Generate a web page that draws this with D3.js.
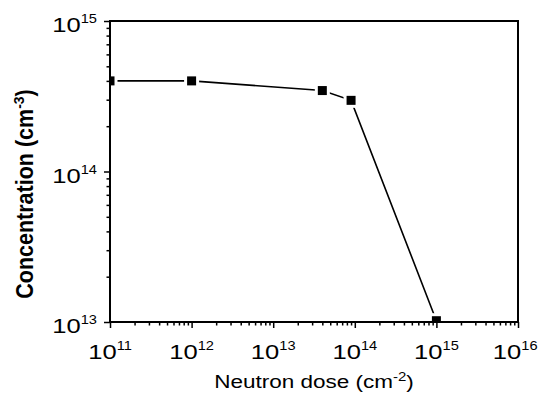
<!DOCTYPE html>
<meta charset="utf-8">
<script src="https://d3js.org/d3.v7.min.js"></script>
<style>
  body { margin: 0; background: #fff; }
  text { font-family: "Liberation Sans", Arial, sans-serif; fill: #000; }
</style>
<div id="my_dataviz"></div>
<script>

// data
var dose = [1e11, 1e12, 4e13, 9e13, 1e15];
var concentration = [4e14, 4e14, 3.45e14, 2.97e14, 1.02e13];
var xTickExp = [11, 12, 13, 14, 15, 16];
var yTickExp = [13, 14, 15];

var margin = { top: 21, right: 22, bottom: 76, left: 110 },
    width = 540 - margin.left - margin.right,
    height = 398 - margin.top - margin.bottom;

// the original text looks stretched sideways
var stretch = 1.22;

var svg = d3.select("#my_dataviz")
    .append("svg")
    .attr("width", 540)
    .attr("height", 398)
    .append("g")
    .attr("transform", "translate(" + margin.left + "," + margin.top + ")");

var x = d3.scaleLog().domain([1e11, 1e16]).range([0, width]);
var y = d3.scaleLog().domain([1e13, 1e15]).range([height, 0]);

svg.append("clipPath").attr("id", "plotclip")
    .append("rect").attr("width", width).attr("height", height);

var plot = svg.append("g").attr("clip-path", "url(#plotclip)");

// the line
var pts = dose.map(function (d, i) { return [d, concentration[i]]; });
plot.append("path")
    .datum(pts)
    .attr("fill", "none")
    .attr("stroke", "#000")
    .attr("stroke-width", 1.6)
    .attr("d", d3.line()
        .x(function (d) { return x(d[0]); })
        .y(function (d) { return y(d[1]); }));

// square markers with a white halo
var s = 9;
plot.selectAll("rect.pt")
    .data(pts)
    .enter().append("rect")
    .attr("class", "pt")
    .attr("x", function (d) { return x(d[0]) - s / 2; })
    .attr("y", function (d) { return y(d[1]) - s / 2; })
    .attr("width", s).attr("height", s)
    .attr("fill", "#000")
    .attr("stroke", "#fff")
    .attr("stroke-width", 6)
    .attr("paint-order", "stroke");

// minor + major ticks
function logTicks(lo, hi) {
    var t = [];
    for (var e = lo; e < hi; e++) {
        for (var m = 1; m < 10; m++) t.push(m * Math.pow(10, e));
    }
    t.push(Math.pow(10, hi));
    return t;
}
function isMajor(d) { return Math.abs(Math.log10(d) % 1) < 1e-9; }

var xAxis = d3.axisBottom(x)
    .tickValues(logTicks(11, 16))
    .tickSize(0)
    .tickFormat("");
var xg = svg.append("g").attr("transform", "translate(0," + height + ")").call(xAxis);
xg.select(".domain").remove();
xg.selectAll(".tick line")
    .attr("y2", function (d) { return isMajor(d) ? 6 : 3.5; })
    .attr("stroke-width", 1.5);

var yAxis = d3.axisLeft(y)
    .tickValues(logTicks(13, 15))
    .tickSize(0)
    .tickFormat("");
var yg = svg.append("g").call(yAxis);
yg.select(".domain").remove();
yg.selectAll(".tick line")
    .attr("x2", function (d) { return isMajor(d) ? -6 : -3.5; })
    .attr("stroke-width", 1.5);

// frame
svg.append("rect")
    .attr("width", width).attr("height", height)
    .attr("fill", "none")
    .attr("stroke", "#000")
    .attr("stroke-width", 2);

// tick labels as 10^n
function powerLabel(px, py, anchor, e) {
    var g = svg.append("g");
    var t = g.append("text")
        .attr("text-anchor", anchor)
        .style("font-size", "21px");
    t.append("tspan").text("10");
    t.append("tspan").attr("dy", -9).style("font-size", "12px").text(e);
    // keep the label inside the page on the right
    var b = t.node().getBBox();
    var right = margin.left + px + (b.x + b.width) * stretch;
    if (right > 538) px -= right - 538;
    g.attr("transform", "translate(" + px + "," + py + ") scale(" + stretch + ",1)");
}

xTickExp.forEach(function (e) {
    powerLabel(x(Math.pow(10, e)), height + 37, "middle", e);
});
yTickExp.forEach(function (e) {
    powerLabel(-13, y(Math.pow(10, e)) + 11, "end", e);
});

// axis titles
var xt = svg.append("g")
    .attr("transform", "translate(" + (width / 2) + "," + (height + 66) + ") scale(1.25,1)")
    .append("text")
    .attr("text-anchor", "middle")
    .style("font-size", "18px");
xt.append("tspan").text("Neutron dose (cm");
xt.append("tspan").attr("dy", -7).style("font-size", "12px").text("-2");
xt.append("tspan").attr("dy", 7).text(")");

var yt = svg.append("g")
    .attr("transform", "translate(" + (-77) + "," + 173 + ") scale(1.1,1) rotate(-90)")
    .append("text")
    .attr("text-anchor", "middle")
    .style("font-size", "21.5px")
    .style("font-weight", "bold");
yt.append("tspan").text("Concentration (cm");
yt.append("tspan").attr("dy", -8).style("font-size", "14px").text("-3");
yt.append("tspan").attr("dy", 8).text(")");

</script>
